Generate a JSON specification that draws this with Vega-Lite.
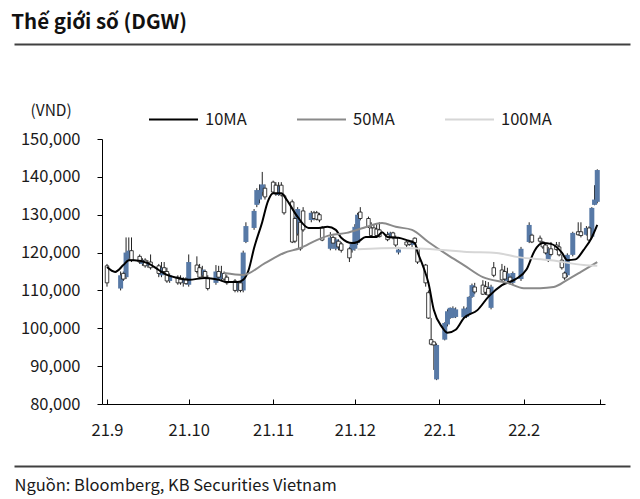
{
  "$schema": "https://vega.github.io/schema/vega-lite/v6.json",
  "width": 503,
  "height": 265,
  "autosize": {"type": "none"},
  "padding": {"left": 102, "top": 139, "right": 35, "bottom": 95},
  "background": "white",
  "config": {
    "view": {"stroke": null},
    "font": "Noto Sans CJK KR",
    "axis": {"grid": false, "labelOverlap": false},
    "axisY": {"labelOverlap": false, "tickCount": 8, "labelBound": false, "labelSeparation": 0}
  },
  "title": {
    "text": "Thế giới số (DGW)",
    "anchor": "start",
    "frame": "bounds",
    "fontSize": 20.5,
    "fontWeight": "bold",
    "color": "#111111",
    "offset": 11
  },
  "datasets": {
    "candles": [
      {"date": "2021-09-01", "open": 116500, "high": 117000, "low": 111000, "close": 112000},
      {"date": "2021-09-06", "open": 110500, "high": 115000, "low": 110000, "close": 114000},
      {"date": "2021-09-07", "open": 114500, "high": 115000, "low": 112500, "close": 113000},
      {"date": "2021-09-08", "open": 113500, "high": 124000, "low": 113000, "close": 120000},
      {"date": "2021-09-09", "open": 118500, "high": 124000, "low": 118000, "close": 120500},
      {"date": "2021-09-10", "open": 120500, "high": 124000, "low": 117500, "close": 118000},
      {"date": "2021-09-13", "open": 119000, "high": 119500, "low": 117000, "close": 117500},
      {"date": "2021-09-14", "open": 117000, "high": 118500, "low": 116500, "close": 118000},
      {"date": "2021-09-15", "open": 118000, "high": 118500, "low": 116000, "close": 116500},
      {"date": "2021-09-16", "open": 116500, "high": 118000, "low": 116000, "close": 117500},
      {"date": "2021-09-17", "open": 117500, "high": 119500, "low": 115500, "close": 116000},
      {"date": "2021-09-20", "open": 116500, "high": 117000, "low": 113500, "close": 114500},
      {"date": "2021-09-21", "open": 114000, "high": 117500, "low": 113500, "close": 116000},
      {"date": "2021-09-22", "open": 116000, "high": 117500, "low": 114500, "close": 115000},
      {"date": "2021-09-23", "open": 115000, "high": 116000, "low": 112000, "close": 112500},
      {"date": "2021-09-24", "open": 112500, "high": 114500, "low": 112000, "close": 114000},
      {"date": "2021-09-27", "open": 113500, "high": 114000, "low": 111500, "close": 112000},
      {"date": "2021-09-28", "open": 113000, "high": 114000, "low": 111500, "close": 112000},
      {"date": "2021-09-29", "open": 112000, "high": 113500, "low": 111000, "close": 112800},
      {"date": "2021-09-30", "open": 113000, "high": 113500, "low": 111500, "close": 111800},
      {"date": "2021-10-01", "open": 111500, "high": 119500, "low": 111000, "close": 117500},
      {"date": "2021-10-04", "open": 116700, "high": 119000, "low": 114500, "close": 115000},
      {"date": "2021-10-05", "open": 116000, "high": 117000, "low": 113000, "close": 113500},
      {"date": "2021-10-06", "open": 114000, "high": 116500, "low": 113500, "close": 115500},
      {"date": "2021-10-07", "open": 115000, "high": 115500, "low": 113000, "close": 113500},
      {"date": "2021-10-08", "open": 113300, "high": 114000, "low": 110000, "close": 110500},
      {"date": "2021-10-11", "open": 112000, "high": 116700, "low": 111500, "close": 115000},
      {"date": "2021-10-12", "open": 115000, "high": 116500, "low": 113000, "close": 113500},
      {"date": "2021-10-13", "open": 113000, "high": 116500, "low": 112500, "close": 114500},
      {"date": "2021-10-14", "open": 114500, "high": 115000, "low": 112500, "close": 113000},
      {"date": "2021-10-15", "open": 113500, "high": 114000, "low": 111500, "close": 112000},
      {"date": "2021-10-18", "open": 112500, "high": 113000, "low": 109500, "close": 110000},
      {"date": "2021-10-19", "open": 110000, "high": 112500, "low": 109500, "close": 112000},
      {"date": "2021-10-20", "open": 112000, "high": 112500, "low": 109500, "close": 110000},
      {"date": "2021-10-21", "open": 110000, "high": 120500, "low": 109500, "close": 120000},
      {"date": "2021-10-22", "open": 122800, "high": 128000, "low": 122500, "close": 127000},
      {"date": "2021-10-25", "open": 126500, "high": 131500, "low": 126000, "close": 131000},
      {"date": "2021-10-26", "open": 132600, "high": 137000, "low": 132000, "close": 136500},
      {"date": "2021-10-27", "open": 134000, "high": 138000, "low": 133000, "close": 136500},
      {"date": "2021-10-28", "open": 136000, "high": 141300, "low": 135000, "close": 138000},
      {"date": "2021-10-29", "open": 137000, "high": 138000, "low": 134000, "close": 134700},
      {"date": "2021-11-01", "open": 138600, "high": 139000, "low": 135500, "close": 136000},
      {"date": "2021-11-02", "open": 137800, "high": 138600, "low": 135000, "close": 135500},
      {"date": "2021-11-03", "open": 135200, "high": 138600, "low": 135000, "close": 137500},
      {"date": "2021-11-04", "open": 137800, "high": 138600, "low": 134800, "close": 135200},
      {"date": "2021-11-05", "open": 135000, "high": 135500, "low": 130000, "close": 130500},
      {"date": "2021-11-08", "open": 133400, "high": 134000, "low": 122500, "close": 122800},
      {"date": "2021-11-09", "open": 129000, "high": 129500, "low": 122500, "close": 123000},
      {"date": "2021-11-10", "open": 125000, "high": 132000, "low": 124500, "close": 131500},
      {"date": "2021-11-11", "open": 128000, "high": 128500, "low": 120500, "close": 121000},
      {"date": "2021-11-12", "open": 131000, "high": 132000, "low": 125500, "close": 126000},
      {"date": "2021-11-15", "open": 128600, "high": 131000, "low": 128000, "close": 130500},
      {"date": "2021-11-16", "open": 130500, "high": 131000, "low": 128500, "close": 129000},
      {"date": "2021-11-17", "open": 130500, "high": 131000, "low": 128500, "close": 128800},
      {"date": "2021-11-18", "open": 130000, "high": 130500, "low": 128000, "close": 128600},
      {"date": "2021-11-19", "open": 126500, "high": 127000, "low": 123000, "close": 123300},
      {"date": "2021-11-22", "open": 121000, "high": 125400, "low": 120600, "close": 124000},
      {"date": "2021-11-23", "open": 124000, "high": 124500, "low": 121000, "close": 122500},
      {"date": "2021-11-24", "open": 121000, "high": 124000, "low": 120600, "close": 123500},
      {"date": "2021-11-25", "open": 123000, "high": 123500, "low": 120600, "close": 121500},
      {"date": "2021-11-26", "open": 122300, "high": 122800, "low": 120000, "close": 120600},
      {"date": "2021-11-29", "open": 121000, "high": 121500, "low": 117500, "close": 118600},
      {"date": "2021-11-30", "open": 120600, "high": 122800, "low": 120000, "close": 122300},
      {"date": "2021-12-01", "open": 121000, "high": 127500, "low": 120500, "close": 126800},
      {"date": "2021-12-02", "open": 122500, "high": 130500, "low": 122000, "close": 130000},
      {"date": "2021-12-03", "open": 130700, "high": 132000, "low": 128500, "close": 129000},
      {"date": "2021-12-06", "open": 129000, "high": 129500, "low": 126500, "close": 126800},
      {"date": "2021-12-07", "open": 126500, "high": 128000, "low": 124000, "close": 124500},
      {"date": "2021-12-08", "open": 126500, "high": 127500, "low": 124000, "close": 124200},
      {"date": "2021-12-09", "open": 126200, "high": 127500, "low": 124000, "close": 124500},
      {"date": "2021-12-10", "open": 126000, "high": 128000, "low": 124000, "close": 124200},
      {"date": "2021-12-13", "open": 124700, "high": 125500, "low": 123000, "close": 123400},
      {"date": "2021-12-14", "open": 124100, "high": 125500, "low": 123800, "close": 125200},
      {"date": "2021-12-15", "open": 125200, "high": 125500, "low": 123500, "close": 124100},
      {"date": "2021-12-16", "open": 124000, "high": 124500, "low": 121500, "close": 122000},
      {"date": "2021-12-17", "open": 120000, "high": 121500, "low": 119500, "close": 120800},
      {"date": "2021-12-20", "open": 122800, "high": 123000, "low": 121500, "close": 122000},
      {"date": "2021-12-21", "open": 122800, "high": 123200, "low": 121800, "close": 122200},
      {"date": "2021-12-22", "open": 122000, "high": 123300, "low": 121500, "close": 122800},
      {"date": "2021-12-23", "open": 123800, "high": 124000, "low": 122000, "close": 122600},
      {"date": "2021-12-24", "open": 121000, "high": 121500, "low": 117000, "close": 117500},
      {"date": "2021-12-27", "open": 116700, "high": 117000, "low": 111000, "close": 112000},
      {"date": "2021-12-28", "open": 109400, "high": 110000, "low": 102500, "close": 102700},
      {"date": "2021-12-29", "open": 97000, "high": 102700, "low": 95500, "close": 95800},
      {"date": "2021-12-30", "open": 96400, "high": 96500, "low": 89000, "close": 95600},
      {"date": "2021-12-31", "open": 86500, "high": 96000, "low": 86300, "close": 95600},
      {"date": "2022-01-03", "open": 97000, "high": 101600, "low": 96800, "close": 101400},
      {"date": "2022-01-04", "open": 101000, "high": 105000, "low": 100500, "close": 104500},
      {"date": "2022-01-05", "open": 102700, "high": 105500, "low": 102500, "close": 105400},
      {"date": "2022-01-06", "open": 102800, "high": 105800, "low": 102700, "close": 105300},
      {"date": "2022-01-07", "open": 103000, "high": 105500, "low": 102700, "close": 105000},
      {"date": "2022-01-10", "open": 102900, "high": 105800, "low": 102700, "close": 105200},
      {"date": "2022-01-11", "open": 103000, "high": 105500, "low": 102700, "close": 105200},
      {"date": "2022-01-12", "open": 104000, "high": 108500, "low": 103500, "close": 108300},
      {"date": "2022-01-13", "open": 108300, "high": 111800, "low": 108000, "close": 111400},
      {"date": "2022-01-14", "open": 110900, "high": 112000, "low": 109000, "close": 109600},
      {"date": "2022-01-17", "open": 111400, "high": 112700, "low": 108800, "close": 109000},
      {"date": "2022-01-18", "open": 111000, "high": 112500, "low": 108800, "close": 109500},
      {"date": "2022-01-19", "open": 110500, "high": 112200, "low": 108500, "close": 108800},
      {"date": "2022-01-20", "open": 105400, "high": 111500, "low": 105000, "close": 111000},
      {"date": "2022-01-21", "open": 116000, "high": 117500, "low": 113500, "close": 114000},
      {"date": "2022-01-24", "open": 115400, "high": 117000, "low": 112500, "close": 112800},
      {"date": "2022-01-25", "open": 115000, "high": 116500, "low": 112500, "close": 113000},
      {"date": "2022-01-26", "open": 112500, "high": 116000, "low": 112000, "close": 114500},
      {"date": "2022-01-27", "open": 113500, "high": 114000, "low": 111500, "close": 112300},
      {"date": "2022-01-28", "open": 112000, "high": 115000, "low": 111500, "close": 114600},
      {"date": "2022-01-31", "open": 113000, "high": 121500, "low": 112500, "close": 121000},
      {"date": "2022-02-03", "open": 122800, "high": 128000, "low": 122500, "close": 127300},
      {"date": "2022-02-04", "open": 124600, "high": 125000, "low": 122500, "close": 122800},
      {"date": "2022-02-07", "open": 123800, "high": 124500, "low": 122500, "close": 123000},
      {"date": "2022-02-08", "open": 122800, "high": 123000, "low": 121000, "close": 121500},
      {"date": "2022-02-09", "open": 122000, "high": 122500, "low": 119500, "close": 119900},
      {"date": "2022-02-10", "open": 118000, "high": 121500, "low": 117500, "close": 121000},
      {"date": "2022-02-11", "open": 121000, "high": 122800, "low": 119000, "close": 119500},
      {"date": "2022-02-13", "open": 122000, "high": 122800, "low": 120500, "close": 120800},
      {"date": "2022-02-14", "open": 121500, "high": 122800, "low": 119000, "close": 119400},
      {"date": "2022-02-15", "open": 118000, "high": 119400, "low": 115500, "close": 116000},
      {"date": "2022-02-16", "open": 114600, "high": 115000, "low": 112800, "close": 113300},
      {"date": "2022-02-17", "open": 114000, "high": 119800, "low": 113500, "close": 119400},
      {"date": "2022-02-19", "open": 119400, "high": 125500, "low": 119000, "close": 125200},
      {"date": "2022-02-21", "open": 125500, "high": 128000, "low": 124500, "close": 124700},
      {"date": "2022-02-22", "open": 125500, "high": 128000, "low": 124000, "close": 124500},
      {"date": "2022-02-24", "open": 124700, "high": 127000, "low": 124500, "close": 126500},
      {"date": "2022-02-25", "open": 126500, "high": 127000, "low": 123000, "close": 123300},
      {"date": "2022-02-26", "open": 124200, "high": 132000, "low": 124000, "close": 131800},
      {"date": "2022-02-27", "open": 132600, "high": 137800, "low": 132500, "close": 134000},
      {"date": "2022-02-28", "open": 133400, "high": 142000, "low": 133000, "close": 141800}
    ],
    "ma": [
      {"series": "10MA", "date": "2021-09-01", "value": 116200},
      {"series": "10MA", "date": "2021-09-04", "value": 114900},
      {"series": "10MA", "date": "2021-09-07", "value": 116700},
      {"series": "10MA", "date": "2021-09-09", "value": 118000},
      {"series": "10MA", "date": "2021-09-11", "value": 118000},
      {"series": "10MA", "date": "2021-09-16", "value": 117200},
      {"series": "10MA", "date": "2021-09-20", "value": 115400},
      {"series": "10MA", "date": "2021-09-23", "value": 114100},
      {"series": "10MA", "date": "2021-09-27", "value": 113300},
      {"series": "10MA", "date": "2021-10-01", "value": 112800},
      {"series": "10MA", "date": "2021-10-07", "value": 113300},
      {"series": "10MA", "date": "2021-10-12", "value": 112800},
      {"series": "10MA", "date": "2021-10-15", "value": 112200},
      {"series": "10MA", "date": "2021-10-19", "value": 112200},
      {"series": "10MA", "date": "2021-10-21", "value": 112800},
      {"series": "10MA", "date": "2021-10-23", "value": 115400},
      {"series": "10MA", "date": "2021-10-25", "value": 121200},
      {"series": "10MA", "date": "2021-10-28", "value": 128100},
      {"series": "10MA", "date": "2021-10-30", "value": 133400},
      {"series": "10MA", "date": "2021-11-01", "value": 135700},
      {"series": "10MA", "date": "2021-11-04", "value": 135700},
      {"series": "10MA", "date": "2021-11-06", "value": 133900},
      {"series": "10MA", "date": "2021-11-10", "value": 129400},
      {"series": "10MA", "date": "2021-11-14", "value": 126500},
      {"series": "10MA", "date": "2021-11-17", "value": 126500},
      {"series": "10MA", "date": "2021-11-21", "value": 126800},
      {"series": "10MA", "date": "2021-11-24", "value": 126000},
      {"series": "10MA", "date": "2021-11-26", "value": 123900},
      {"series": "10MA", "date": "2021-11-30", "value": 122500},
      {"series": "10MA", "date": "2021-12-02", "value": 122800},
      {"series": "10MA", "date": "2021-12-05", "value": 124100},
      {"series": "10MA", "date": "2021-12-09", "value": 124100},
      {"series": "10MA", "date": "2021-12-11", "value": 125400},
      {"series": "10MA", "date": "2021-12-13", "value": 124100},
      {"series": "10MA", "date": "2021-12-17", "value": 123900},
      {"series": "10MA", "date": "2021-12-20", "value": 123300},
      {"series": "10MA", "date": "2021-12-23", "value": 122500},
      {"series": "10MA", "date": "2021-12-24", "value": 120200},
      {"series": "10MA", "date": "2021-12-26", "value": 116500},
      {"series": "10MA", "date": "2021-12-28", "value": 112000},
      {"series": "10MA", "date": "2021-12-30", "value": 104800},
      {"series": "10MA", "date": "2022-01-02", "value": 100300},
      {"series": "10MA", "date": "2022-01-04", "value": 98800},
      {"series": "10MA", "date": "2022-01-07", "value": 99600},
      {"series": "10MA", "date": "2022-01-10", "value": 102700},
      {"series": "10MA", "date": "2022-01-15", "value": 104800},
      {"series": "10MA", "date": "2022-01-19", "value": 108300},
      {"series": "10MA", "date": "2022-01-24", "value": 111400},
      {"series": "10MA", "date": "2022-01-29", "value": 113000},
      {"series": "10MA", "date": "2022-02-02", "value": 115500},
      {"series": "10MA", "date": "2022-02-05", "value": 120500},
      {"series": "10MA", "date": "2022-02-08", "value": 122500},
      {"series": "10MA", "date": "2022-02-11", "value": 122300},
      {"series": "10MA", "date": "2022-02-15", "value": 120000},
      {"series": "10MA", "date": "2022-02-17", "value": 118000},
      {"series": "10MA", "date": "2022-02-20", "value": 118200},
      {"series": "10MA", "date": "2022-02-23", "value": 120700},
      {"series": "10MA", "date": "2022-02-26", "value": 124000},
      {"series": "10MA", "date": "2022-02-28", "value": 127300},
      {"series": "50MA", "date": "2021-10-14", "value": 114600},
      {"series": "50MA", "date": "2021-10-21", "value": 114100},
      {"series": "50MA", "date": "2021-10-29", "value": 117200},
      {"series": "50MA", "date": "2021-11-05", "value": 119900},
      {"series": "50MA", "date": "2021-11-11", "value": 121200},
      {"series": "50MA", "date": "2021-11-17", "value": 123300},
      {"series": "50MA", "date": "2021-11-22", "value": 124600},
      {"series": "50MA", "date": "2021-11-28", "value": 125200},
      {"series": "50MA", "date": "2021-12-04", "value": 126500},
      {"series": "50MA", "date": "2021-12-11", "value": 127800},
      {"series": "50MA", "date": "2021-12-16", "value": 126800},
      {"series": "50MA", "date": "2021-12-22", "value": 126000},
      {"series": "50MA", "date": "2021-12-28", "value": 122800},
      {"series": "50MA", "date": "2022-01-04", "value": 119400},
      {"series": "50MA", "date": "2022-01-10", "value": 116700},
      {"series": "50MA", "date": "2022-01-17", "value": 113500},
      {"series": "50MA", "date": "2022-01-26", "value": 112000},
      {"series": "50MA", "date": "2022-02-01", "value": 110600},
      {"series": "50MA", "date": "2022-02-07", "value": 110600},
      {"series": "50MA", "date": "2022-02-12", "value": 110900},
      {"series": "50MA", "date": "2022-02-17", "value": 112800},
      {"series": "50MA", "date": "2022-02-22", "value": 114900},
      {"series": "50MA", "date": "2022-02-28", "value": 117500},
      {"series": "100MA", "date": "2021-12-02", "value": 120900},
      {"series": "100MA", "date": "2021-12-17", "value": 121200},
      {"series": "100MA", "date": "2022-01-02", "value": 120700},
      {"series": "100MA", "date": "2022-01-10", "value": 120200},
      {"series": "100MA", "date": "2022-01-22", "value": 119900},
      {"series": "100MA", "date": "2022-01-30", "value": 118800},
      {"series": "100MA", "date": "2022-02-11", "value": 118000},
      {"series": "100MA", "date": "2022-02-23", "value": 116700},
      {"series": "100MA", "date": "2022-02-28", "value": 116500}
    ]
  },
  "layer": [
    {
      "data": {"name": "ma"},
      "mark": {"type": "point", "opacity": 0},
      "encoding": {
        "x": {
          "field": "date", "type": "temporal",
          "scale": {"type": "utc", "range": [-88, 528]},
          "axis": {"orient": "bottom", "offset": -360, "domainColor": "#404040", "domainWidth": 2, "ticks": false, "labels": false, "title": null, "grid": false}
        }
      }
    },
    {
      "data": {"name": "ma"},
      "mark": {"type": "point", "opacity": 0},
      "encoding": {
        "x": {
          "field": "date", "type": "temporal",
          "scale": {"type": "utc", "range": [-88, 528]},
          "axis": {
            "orient": "bottom", "offset": 62, "domainColor": "#404040", "domainWidth": 2,
            "ticks": false, "labels": false, "grid": false,
            "title": "Nguồn: Bloomberg, KB Securities Vietnam",
            "titleX": -88, "titleY": 19, "titleAlign": "left", "titleBaseline": "middle",
            "titleFontSize": 16.5, "titleFontWeight": "normal", "titleColor": "#1a1a1a"
          }
        }
      }
    },
    {
      "layer": [
        {
          "data": {"name": "candles"},
          "mark": {"type": "rule", "color": "#222222", "strokeWidth": 1},
          "encoding": {
            "x": {
              "field": "date", "type": "temporal",
              "scale": {"type": "utc", "domain": [{"year": 2021, "month": 9, "date": 1, "utc": true}, {"year": 2022, "month": 3, "date": 1, "utc": true}]},
              "axis": {
                "orient": "bottom",
                "values": [
                  {"year": 2021, "month": 9, "date": 1, "utc": true},
                  {"year": 2021, "month": 10, "date": 1, "utc": true},
                  {"year": 2021, "month": 11, "date": 1, "utc": true},
                  {"year": 2021, "month": 12, "date": 1, "utc": true},
                  {"year": 2022, "month": 1, "date": 1, "utc": true},
                  {"year": 2022, "month": 2, "date": 1, "utc": true},
                  {"year": 2022, "month": 3, "date": 1, "utc": true}
                ],
                "labelExpr": "utcmonth(datum.value) == 2 ? '' : utcFormat(datum.value, '%y.%-m')",
                "title": null,
                "domainColor": "#000000", "tickColor": "#000000", "tickSize": -5,
                "labelFontSize": 16.5, "labelColor": "#1a1a1a", "labelPadding": 23, "grid": false,
                "labelOverlap": false
              }
            },
            "y": {
              "field": "low", "type": "quantitative",
              "scale": {"domain": [80000, 150000], "zero": false, "nice": false},
              "axis": {
                "values": [80000, 90000, 100000, 110000, 120000, 130000, 140000, 150000],
                "format": ",d",
                "title": "(VND)",
                "titleAngle": 0, "titleX": -72, "titleY": -29, "titleAlign": "left", "titleBaseline": "middle",
                "titleFontSize": 15.5, "titleFontWeight": "normal", "titleColor": "#1a1a1a",
                "domainColor": "#000000", "tickColor": "#000000", "tickSize": 5,
                "labelFontSize": 16.5, "labelColor": "#1a1a1a", "labelPadding": 17, "grid": false,
                "labelOverlap": false
              }
            },
            "y2": {"field": "high"}
          }
        },
        {
          "data": {"name": "candles"},
          "transform": [{"filter": "datum.close > datum.open"}],
          "mark": {"type": "bar", "size": 5, "color": "#5779a6"},
          "encoding": {
            "x": {"field": "date", "type": "temporal"},
            "y": {"field": "open", "type": "quantitative"},
            "y2": {"field": "close"}
          }
        },
        {
          "data": {"name": "candles"},
          "transform": [{"filter": "datum.close <= datum.open"}],
          "mark": {"type": "bar", "size": 3.5, "fill": "#ffffff", "stroke": "#111111", "strokeWidth": 0.8},
          "encoding": {
            "x": {"field": "date", "type": "temporal"},
            "y": {"field": "open", "type": "quantitative"},
            "y2": {"field": "close"}
          }
        },
        {
          "data": {"name": "ma"},
          "mark": {"type": "line", "interpolate": "monotone", "strokeWidth": 2},
          "encoding": {
            "x": {"field": "date", "type": "temporal"},
            "y": {"field": "value", "type": "quantitative"},
            "color": {
              "field": "series", "type": "nominal",
              "scale": {"domain": ["10MA", "50MA", "100MA"], "range": ["#000000", "#8a8a8a", "#d6d6d6"]},
              "legend": {
                "orient": "none", "legendX": 46, "legendY": -45, "direction": "horizontal",
                "title": null, "symbolType": "stroke", "symbolSize": 2401, "symbolStrokeWidth": 2,
                "labelFontSize": 16.5, "labelColor": "#1a1a1a", "labelOffset": 6,
                "columnPadding": 37, "gridAlign": "all"
              }
            }
          }
        }
      ]
    }
  ],
  "resolve": {"scale": {"x": "independent"}}
}
